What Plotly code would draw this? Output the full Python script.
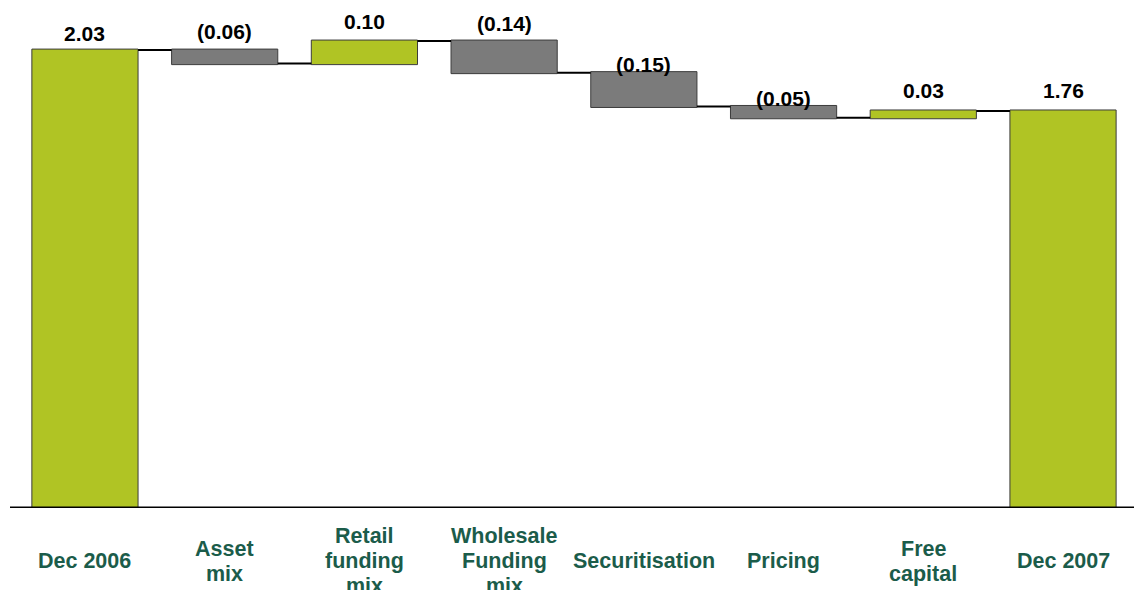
import plotly.graph_objects as go

categories = ["Dec 2006", "Asset mix", "Retail funding mix", "Wholesale Funding mix",
              "Securitisation", "Pricing", "Free capital", "Dec 2007"]
cat_labels = ["Dec 2006", "Asset<br>mix", "Retail<br>funding<br>mix", "Wholesale<br>Funding<br>mix",
              "Securitisation", "Pricing", "Free<br>capital", "Dec 2007"]
measures = ["absolute", "relative", "relative", "relative", "relative", "relative", "relative", "total"]
values = [2.03, -0.06, 0.10, -0.14, -0.15, -0.05, 0.03, 1.76]
value_text = ["2.03", "(0.06)", "0.10", "(0.14)", "(0.15)", "(0.05)", "0.03", "1.76"]

# style: pixel gap between bar top and label centre
label_gap_px = [17, 19, 20, 18, 8, 8, 20, 20]

GREEN = "#b0c424"
GRAY = "#7b7b7b"
OUTLINE = "#3c3c3c"
TEXT_GREEN = "#1b5c4a"
FONT = "Liberation Sans, Arial, sans-serif"

x_idx = list(range(len(categories)))

fig = go.Figure(go.Waterfall(
    x=x_idx,
    measure=measures,
    y=[v if m != "total" else 0 for v, m in zip(values, measures)],
    increasing=dict(marker=dict(color=GREEN, line=dict(color=OUTLINE, width=1))),
    decreasing=dict(marker=dict(color=GRAY, line=dict(color=OUTLINE, width=1))),
    totals=dict(marker=dict(color=GREEN, line=dict(color=OUTLINE, width=1))),
    connector=dict(mode="between", line=dict(color="black", width=2)),
    hoverinfo="skip",
    showlegend=False,
))

# compute bar tops for labels
level = 0.0
tops = []
for v, m in zip(values, measures):
    if m == "absolute":
        level = v
        tops.append(v)
    elif m == "total":
        tops.append(level)
    else:
        tops.append(max(level, level + v))
        level += v

for i, (t, txt, g) in enumerate(zip(tops, value_text, label_gap_px)):
    fig.add_annotation(x=i, y=t, text=f"<b>{txt}</b>", showarrow=False,
                       xanchor="center", yanchor="middle", yshift=g,
                       font=dict(family=FONT, size=21, color="black"))

# category labels, each line placed with 25px spacing centred ~53px below axis
for i, lab in enumerate(cat_labels):
    lines = lab.split("<br>")
    n = len(lines)
    for j, ln in enumerate(lines):
        fig.add_annotation(x=i, y=0, yref="y", text=f"<b>{ln}</b>", showarrow=False,
                           xanchor="center", yanchor="middle",
                           yshift=-53 - (j - (n - 1) / 2) * 25,
                           font=dict(family=FONT, size=21.5, color=TEXT_GREEN))

fig.add_shape(type="line", xref="paper", yref="y", x0=10 / 1134, x1=1, y0=0, y1=0,
              line=dict(color="black", width=3))

fig.update_layout(
    width=1134, height=590,
    margin=dict(l=0, r=0, t=0, b=82),
    paper_bgcolor="white", plot_bgcolor="white",
    waterfallgap=0.24,
    xaxis=dict(range=[-0.608, 7.508], showticklabels=False, showgrid=False,
               zeroline=False, showline=False, ticks=""),
    yaxis=dict(range=[0, 2.252], visible=False, showgrid=False, zeroline=False),
)

fig.write_html("out.html", config={"displayModeBar": False},
               post_script="document.body.style.margin='0';document.body.style.padding='0';document.body.style.overflow='hidden';")
